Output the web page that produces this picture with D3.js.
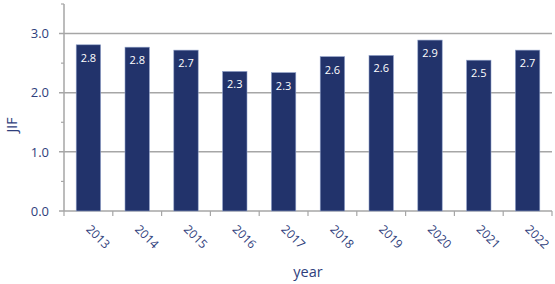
<!DOCTYPE html>
<html>
<head>
<meta charset="utf-8">
<script src="https://cdn.jsdelivr.net/npm/d3@7"></script>
<style>
  body { margin: 0; background: #fff; }
  text { font-family: "Open Sans", sans-serif; }
</style>
</head>
<body>
<div id="chart"></div>
<script>
var years = ['2013', '2014', '2015', '2016', '2017', '2018', '2019', '2020', '2021', '2022'];
var jif = [2.81, 2.77, 2.72, 2.36, 2.34, 2.61, 2.63, 2.89, 2.55, 2.72];
var labels = ['2.8', '2.8', '2.7', '2.3', '2.3', '2.6', '2.6', '2.9', '2.5', '2.7'];
var majorTicks = [0, 1, 2, 3];
var minorTicks = [0.5, 1.5, 2.5, 3.5];

(() => {
  var W = 555, H = 284,
      margin = { top: 4, left: 64, right: 3, bottom: 73 },
      width = W - margin.left - margin.right,
      height = H - margin.top - margin.bottom;

  var navy = '#22336b', textCol = '#2f3e7c', grid = '#a6a6a6';

  var svg = d3.select('#chart').append('svg')
    .attr('width', W).attr('height', H);

  var g = svg.append('g')
    .attr('transform', 'translate(' + margin.left + ',' + margin.top + ')');

  var x = d3.scaleBand().domain(years).range([0, width]).paddingInner(0.5).paddingOuter(0.25);
  var xb = d3.scaleBand().domain(years).range([0, width]);
  var y = d3.scaleLinear().domain([0, 3.5]).range([height, 0]);

  // gridlines + major ticks
  g.selectAll('.grid').data(majorTicks).enter().append('line')
    .attr('x1', -5).attr('x2', width)
    .attr('y1', d => y(d)).attr('y2', d => y(d))
    .attr('stroke', grid).attr('stroke-width', 1.5);

  g.selectAll('.minor').data(minorTicks).enter().append('line')
    .attr('x1', -3).attr('x2', 0)
    .attr('y1', d => y(d)).attr('y2', d => y(d))
    .attr('stroke', grid).attr('stroke-width', 1.2);

  g.append('line')
    .attr('x1', 0).attr('x2', 0).attr('y1', 0).attr('y2', height)
    .attr('stroke', grid).attr('stroke-width', 1.5);

  // x ticks at band boundaries
  g.selectAll('.xt').data(years.concat(['end'])).enter().append('line')
    .attr('x1', (d, i) => i * xb.step()).attr('x2', (d, i) => i * xb.step())
    .attr('y1', height).attr('y2', height + 5)
    .attr('stroke', grid).attr('stroke-width', 1.2);

  g.selectAll('.ylab').data(majorTicks).enter().append('text')
    .attr('x', -15).attr('y', d => y(d)).attr('dy', '0.36em')
    .attr('text-anchor', 'end').attr('fill', textCol).attr('font-size', 13)
    .text(d => d.toFixed(1));

  g.selectAll('.bar').data(jif).enter().append('rect')
    .attr('x', (d, i) => x(years[i]))
    .attr('y', d => y(d))
    .attr('width', x.bandwidth())
    .attr('height', d => height - y(d))
    .attr('fill', navy)
    .attr('stroke', '#8fa0c8').attr('stroke-width', 0.6);

  g.selectAll('.val').data(jif).enter().append('text')
    .attr('x', (d, i) => x(years[i]) + x.bandwidth() / 2)
    .attr('y', d => y(d) + 17)
    .attr('text-anchor', 'middle').attr('fill', '#fff').attr('font-size', 11)
    .text((d, i) => labels[i]);

  g.selectAll('.xlab').data(years).enter().append('text')
    .attr('transform', d => 'translate(' + (xb(d) + xb.bandwidth() / 2 - 3) + ',' + (height + 19) + ') rotate(45)')
    .attr('fill', textCol).attr('font-size', 12)
    .text(d => d);

  svg.append('text')
    .attr('transform', 'translate(17,125) rotate(-90)')
    .attr('text-anchor', 'middle').attr('fill', textCol).attr('font-size', 14)
    .text('JIF');

  svg.append('text')
    .attr('x', margin.left + width / 2).attr('y', 277)
    .attr('text-anchor', 'middle').attr('fill', textCol).attr('font-size', 14.5)
    .text('year');
})();
</script>
</body>
</html>
